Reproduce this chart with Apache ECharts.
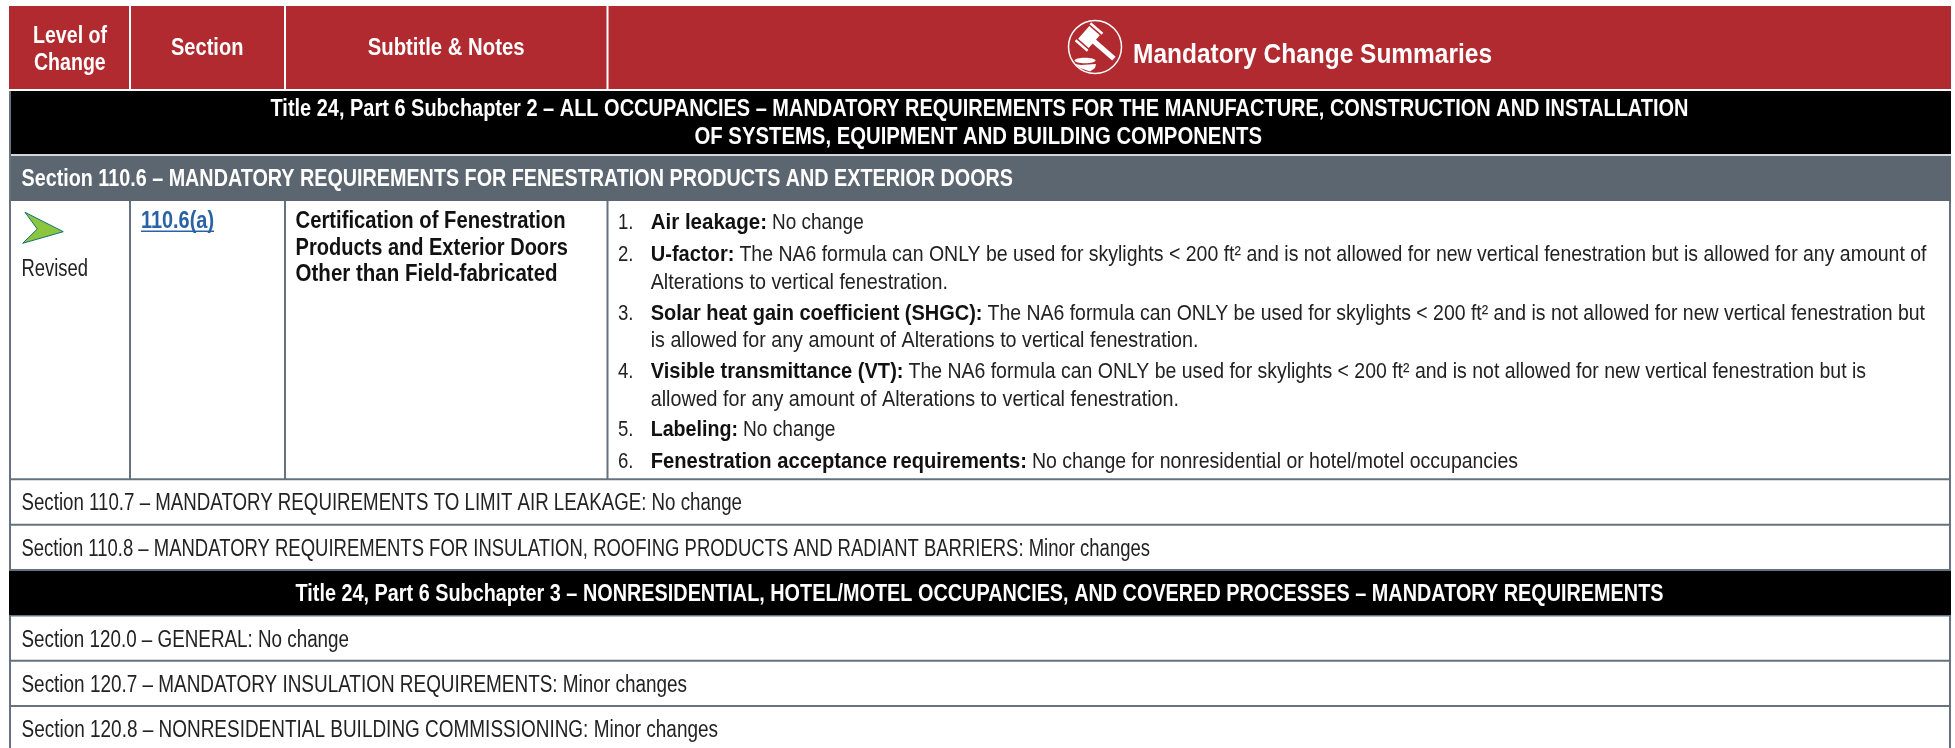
<!DOCTYPE html>
<html><head><meta charset="utf-8">
<style>html,body{margin:0;padding:0;background:#fff}#c{width:1955px;height:748px}</style>
<script src="https://cdn.jsdelivr.net/npm/echarts@6/dist/echarts.min.js"></script>
</head><body><div id="c"></div>
<script>
const headerCols = [["Level of","Change"],["Section"],["Subtitle & Notes"],["Mandatory Change Summaries"]];
const subchapter2 = ["Title 24, Part 6 Subchapter 2 – ALL OCCUPANCIES – MANDATORY REQUIREMENTS FOR THE MANUFACTURE, CONSTRUCTION AND INSTALLATION","OF SYSTEMS, EQUIPMENT AND BUILDING COMPONENTS"];
const section1106 = "Section 110.6 – MANDATORY REQUIREMENTS FOR FENESTRATION PRODUCTS AND EXTERIOR DOORS";
const levelText = "Revised";
const sectionLink = "110.6(a)";
const subtitleLines = ["Certification of Fenestration","Products and Exterior Doors","Other than Field-fabricated"];
const listNumbers = ["1.","2.","","3.","","4.","","5.","6."];
const listBold = ["Air leakage:","U-factor:","","Solar heat gain coefficient (SHGC):","","Visible transmittance (VT):","","Labeling:","Fenestration acceptance requirements:"];
const listText = ["No change",
 "The NA6 formula can ONLY be used for skylights < 200 ft² and is not allowed for new vertical fenestration but is allowed for any amount of",
 "Alterations to vertical fenestration.",
 "The NA6 formula can ONLY be used for skylights < 200 ft² and is not allowed for new vertical fenestration but",
 "is allowed for any amount of Alterations to vertical fenestration.",
 "The NA6 formula can ONLY be used for skylights < 200 ft² and is not allowed for new vertical fenestration but is",
 "allowed for any amount of Alterations to vertical fenestration.",
 "No change",
 "No change for nonresidential or hotel/motel occupancies"];
const plainRowsA = ["Section 110.7 – MANDATORY REQUIREMENTS TO LIMIT AIR LEAKAGE: No change","Section 110.8 – MANDATORY REQUIREMENTS FOR INSULATION, ROOFING PRODUCTS AND RADIANT BARRIERS: Minor changes"];
const subchapter3 = "Title 24, Part 6 Subchapter 3 – NONRESIDENTIAL, HOTEL/MOTEL OCCUPANCIES, AND COVERED PROCESSES – MANDATORY REQUIREMENTS";
const plainRowsB = ["Section 120.0 – GENERAL: No change","Section 120.7 – MANDATORY INSULATION REQUIREMENTS: Minor changes","Section 120.8 – NONRESIDENTIAL BUILDING COMMISSIONING: Minor changes"];

const FONT = '"Liberation Sans",sans-serif';
const RED='#B02A30', GREY='#5C6670', RULE='#66737F', LINK='#2A62A6', INK='#222';
const DY=1.5;
const els=[];
const ctx=document.createElement('canvas').getContext('2d');
const rect=(x,y,w,h,fill)=>els.push({type:'rect',shape:{x,y,width:w,height:h},style:{fill},silent:true});
// a text squeezed into the horizontal span x0..x1
const fit=(t,x0,x1,y,o={})=>{
  const font=`${o.bold?'bold ':''}${o.size||23}px ${FONT}`;
  ctx.font=font;
  const sx=(x1-x0)/ctx.measureText(t).width;
  els.push({type:'text',x:x0,y:y+DY,scaleX:sx,silent:true,style:{text:t,fill:o.fill||INK,font,align:'left',verticalAlign:'middle'}});
};
const W={bold:1,fill:'#fff',size:23.5};

// header band
rect(9,6,1942,83,RED);
[129,284,606.5].forEach(x=>rect(x,6,2,83,'#fff'));
fit(headerCols[0][0],33,107,35,W);
fit(headerCols[0][1],34,105.7,62,W);
fit(headerCols[1][0],171,243.4,47.5,W);
fit(headerCols[2][0],367.7,524.5,47.5,W);
fit(headerCols[3][0],1133,1492,53.5,{bold:1,fill:'#fff',size:28});

// gavel icon
els.push({type:'circle',shape:{cx:1095,cy:47,r:26.5},style:{fill:'none',stroke:'#fff',lineWidth:1.5},silent:true});
els.push({type:'group',x:1089,y:37,rotation:-41*Math.PI/180,silent:true,children:[
 {type:'rect',shape:{x:0,y:-2.6,width:33,height:5.2},style:{fill:'#fff'}},
 {type:'rect',shape:{x:-7,y:-8.5,width:14,height:17},style:{fill:'#fff'}},
 {type:'rect',shape:{x:-8,y:-12.5,width:16,height:2.4},style:{fill:'#fff'}},
 {type:'rect',shape:{x:-8,y:10.1,width:16,height:2.4},style:{fill:'#fff'}}
]});
els.push({type:'ellipse',shape:{cx:1085,cy:60.5,rx:10.5,ry:2.8},style:{fill:'#fff'},silent:true});
els.push({type:'polygon',shape:{points:[[1075,64],[1081,65],[1096,64],[1095,68],[1090,71.5],[1080,68]]},style:{fill:'#fff'},silent:true});

// subchapter 2 band
rect(9,91,1942,63,'#000');
fit(subchapter2[0],270.5,1688.5,108.5,W);
fit(subchapter2[1],694.5,1262,136,W);
rect(9,154,1942,2,'#D5D8DB');
// section band
rect(9,156,1942,45,GREY);
fit(section1106,21.5,1013,178,W);

// body grid rules
[479.3,524.7,570,660.7,706].forEach(y=>rect(9,y-1,1942,2,RULE));
rect(9,91,2,657,RULE); rect(1949,201,2,547,RULE);
[129,284,606.5].forEach(x=>rect(x,201,2,278,RULE));

// arrow
els.push({type:'polygon',shape:{points:[[25,212.3],[63.3,231.7],[22.7,243.3],[37.3,229]]},silent:true,style:{fill:'#8CC63F',stroke:'#12707A',lineWidth:1}});
fit(levelText,21.5,88,268);

// section link
fit(sectionLink,141,214,220,{bold:1,fill:LINK});
rect(141,230.5,73,1.5,LINK);
// subtitle
const subEnds=[565.5,568,557.6], subY=[220.5,247.5,273.5];
subtitleLines.forEach((s,i)=>fit(s,295.6,subEnds[i],subY[i],{bold:1,fill:'#111'}));

// summary list
const ys=[221.5,253,281,312.3,339,370,398.3,428.5,460.7];
const boldEnd=[767,734.4,0,982.5,0,903.5,0,738,1027];
const textEnd=[863.7,1926.5,948,1925,1198.4,1866,1179,835.5,1518];
const L={size:22};
listText.forEach((t,i)=>{
  if(listNumbers[i]) fit(listNumbers[i],618,633.5,ys[i],L);
  if(listBold[i]){
    fit(listBold[i],650.7,boldEnd[i],ys[i],{bold:1,fill:'#111',size:22});
    fit(t,boldEnd[i]+5,textEnd[i],ys[i],L);
  } else fit(t,650.7,textEnd[i],ys[i],L);
});

// plain rows
const endsA=[742,1150], yA=[502.5,547.7];
plainRowsA.forEach((s,i)=>fit(s,21.5,endsA[i],yA[i]));
rect(9,571,1942,44,'#000');
rect(9,615,1942,1.5,RULE);
fit(subchapter3,295.5,1663.5,593,W);
const endsB=[349,687,718], yB=[639,683.7,728.7];
plainRowsB.forEach((s,i)=>fit(s,21.5,endsB[i],yB[i]));

const chart=echarts.init(document.getElementById('c'),null,{renderer:'canvas',width:1955,height:748});
chart.setOption({animation:false,backgroundColor:'#fff',graphic:{elements:els}});
</script></body></html>
